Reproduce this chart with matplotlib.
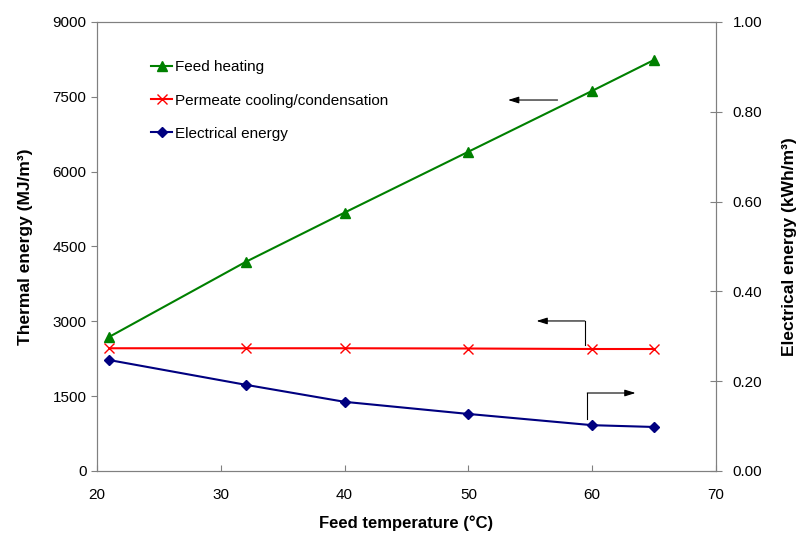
import numpy as np
import matplotlib.pyplot as plt

plt.rcParams['font.family'] = ['Liberation Sans', 'DejaVu Sans']

# data
temp = [21, 32, 40, 50, 60, 65]
feed_heating = [2690, 4190, 5180, 6400, 7620, 8240]
permeate_cooling = [2460, 2460, 2460, 2455, 2445, 2445]
electrical = [0.247, 0.192, 0.154, 0.127, 0.102, 0.098]

fig = plt.figure(figsize=(7.96, 5.39), dpi=100)
ax = fig.add_axes([0.1219, 0.1262, 0.7776, 0.8330])
ax2 = ax.twinx()

l1, = ax.plot(temp, feed_heating, color='#008000', marker='^', ms=7, lw=1.5, label='Feed heating')
l2, = ax.plot(temp, permeate_cooling, color='#ff0000', marker='x', ms=7, mew=1, lw=1.5,
              label='Permeate cooling/condensation')
l3, = ax2.plot(temp, electrical, color='#000080', marker='D', ms=5.5, lw=1.5, label='Electrical energy')

ax.set_xlim(20, 70)
ax.set_ylim(0, 9000)
ax2.set_ylim(0, 1.0)
ax.set_xticks(np.arange(20, 71, 10))
ax.set_yticks(np.arange(0, 9001, 1500))
ax2.set_yticks(np.arange(0, 1.01, 0.2))
ax2.set_yticklabels(['%.2f' % v for v in np.arange(0, 1.01, 0.2)])

for a in (ax, ax2):
    for s in a.spines.values():
        s.set_color('#808080')
ax.tick_params(axis='x', direction='in', length=4, color='#808080', labelsize=11, pad=12)
ax.tick_params(axis='y', direction='out', length=4, color='#808080', labelsize=11)
ax2.tick_params(axis='y', direction='inout', length=8, color='#808080', labelsize=11, pad=8)

ax.set_xlabel('Feed temperature (°C)', fontsize=12, fontweight='bold', labelpad=10)
ax.set_ylabel('Thermal energy (MJ/m³)', fontsize=12.5, fontweight='bold', labelpad=14)
ax2.set_ylabel('Electrical energy (kWh/m³)', fontsize=12.5, fontweight='bold', labelpad=14)

leg = ax.legend(handles=[l1, l2, l3], loc='upper left', bbox_to_anchor=(0.065, 0.945), frameon=False,
                fontsize=11, handlelength=1.4, handletextpad=0.15, labelspacing=1.25)

arw = dict(arrowstyle='-|>,head_length=0.8,head_width=0.25', color='black', lw=0.8,
           mutation_scale=8, shrinkA=0, shrinkB=0)
ax.annotate('', xy=(53.2, 7436), xytext=(57.2, 7436), arrowprops=arw)
ax.plot([59.4, 59.4], [2525, 3007], color='black', lw=0.8)
ax.annotate('', xy=(55.5, 3007), xytext=(59.4, 3007), arrowprops=arw)
ax.plot([59.6, 59.6], [1042, 1563], color='black', lw=0.8)
ax.annotate('', xy=(63.5, 1563), xytext=(59.6, 1563), arrowprops=arw)

fig.savefig('out.png', dpi=100)
